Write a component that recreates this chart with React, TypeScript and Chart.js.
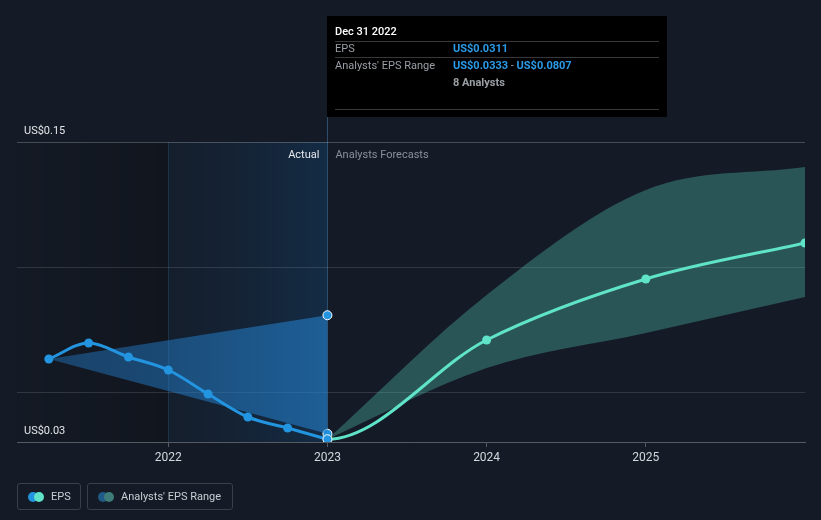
import React, { useEffect, useRef } from 'react';
import { Chart, registerables } from 'chart.js';

Chart.register(...registerables);

// ---- data ----
const pastQuarters = [2021.25, 2021.5, 2021.75, 2022, 2022.25, 2022.5, 2022.75, 2023];
const pastEps = [0.0632, 0.0696, 0.064, 0.0588, 0.0492, 0.04, 0.0356, 0.0311];

const pastRangeX = [2021.25, 2023];
const pastRangeHigh = [0.0632, 0.0807];
const pastRangeLow = [0.0632, 0.0333];

const forecastYears = [2023, 2024, 2025, 2026];
const forecastEps = [0.0311, 0.0708, 0.0952, 0.1096];
const forecastHigh = [0.0311, 0.0888, 0.1308, 0.14];
const forecastLow = [0.0311, 0.0596, 0.0736, 0.088];

const xTickYears = [2022, 2023, 2024, 2025];
const yTickValues = [0.03, 0.05, 0.1, 0.15];
const yLabelledValues = [0.03, 0.15];

const tooltipDate = 'Dec 31 2022';
const analystCount = 8;
const actualStart = 2022;
const actualEnd = 2023;

// ---- style ----
const BG = '#151b26';
const FONT = 'Roboto, "Noto Sans", "DejaVu Sans", sans-serif';
const BLUE = '#2394df';
const TEAL = '#5fe3c9';
const TIP_BLUE = '#2b9be8';

const fmt = (v: number) => 'US$' + v.toFixed(4);

const regionsPlugin = {
  id: 'regions',
  beforeDraw(chart: any) {
    const { ctx, chartArea: a, scales } = chart;
    if (!a) return;
    const x = scales.x;
    const xs = x.getPixelForValue(actualStart);
    const xe = x.getPixelForValue(actualEnd);
    ctx.save();
    // darker pre-actual region
    let g = ctx.createLinearGradient(a.left, 0, xs, 0);
    g.addColorStop(0, 'rgba(0,0,0,0.02)');
    g.addColorStop(1, 'rgba(0,0,0,0.2)');
    ctx.fillStyle = g;
    ctx.fillRect(a.left, a.top, xs - a.left, a.bottom - a.top);
    // actual region
    g = ctx.createLinearGradient(xs, 0, xe, 0);
    g.addColorStop(0, 'rgba(20,42,65,0.25)');
    g.addColorStop(1, 'rgba(20,58,95,0.55)');
    ctx.fillStyle = g;
    ctx.fillRect(xs, a.top, xe - xs, a.bottom - a.top);
    // vertical lines
    ctx.lineWidth = 1;
    ctx.strokeStyle = 'rgba(40,85,120,0.4)';
    ctx.beginPath();
    ctx.moveTo(Math.round(xs) + 0.5, a.top);
    ctx.lineTo(Math.round(xs) + 0.5, a.bottom);
    ctx.stroke();
    ctx.strokeStyle = 'rgba(60,105,145,0.65)';
    ctx.beginPath();
    ctx.moveTo(Math.round(xe) + 0.5, 16);
    ctx.lineTo(Math.round(xe) + 0.5, a.bottom);
    ctx.stroke();
    // labels
    ctx.font = `11px ${FONT}`;
    ctx.textBaseline = 'middle';
    ctx.textAlign = 'right';
    ctx.fillStyle = '#e6e8eb';
    ctx.fillText('Actual', xe - 8, a.top + 13);
    ctx.textAlign = 'left';
    ctx.fillStyle = '#8a9099';
    ctx.fillText('Analysts Forecasts', xe + 8, a.top + 13);
    ctx.restore();
  },
};

const tooltipPlugin = {
  id: 'staticTip',
  afterDraw(chart: any) {
    const { ctx, scales } = chart;
    const x0 = Math.round(scales.x.getPixelForValue(actualEnd));
    const top = 16;
    const w = 340;
    const h = 101;
    ctx.save();
    ctx.fillStyle = '#000';
    ctx.fillRect(x0, top, w, h);
    const lx = x0 + 8;
    const vx = x0 + 126;
    const line = (y: number) => {
      ctx.strokeStyle = 'rgba(255,255,255,0.22)';
      ctx.lineWidth = 1;
      ctx.beginPath();
      ctx.moveTo(lx, y + 0.5);
      ctx.lineTo(x0 + w - 8, y + 0.5);
      ctx.stroke();
    };
    ctx.textBaseline = 'middle';
    ctx.textAlign = 'left';
    ctx.font = `500 11px ${FONT}`;
    ctx.fillStyle = '#ffffff';
    ctx.fillText(tooltipDate, lx, top + 16);
    line(top + 25);
    ctx.font = `11px ${FONT}`;
    ctx.fillStyle = '#9a9fa6';
    ctx.fillText('EPS', lx, top + 33);
    ctx.font = `bold 11px ${FONT}`;
    ctx.fillStyle = TIP_BLUE;
    ctx.fillText(fmt(pastEps[pastEps.length - 1]), vx, top + 33);
    line(top + 41);
    ctx.font = `11px ${FONT}`;
    ctx.fillStyle = '#9a9fa6';
    ctx.fillText("Analysts' EPS Range", lx, top + 50);
    ctx.font = `bold 11px ${FONT}`;
    const lowTxt = fmt(pastRangeLow[pastRangeLow.length - 1]);
    const highTxt = fmt(pastRangeHigh[pastRangeHigh.length - 1]);
    ctx.fillStyle = TIP_BLUE;
    ctx.fillText(lowTxt, vx, top + 50);
    let cx = vx + ctx.measureText(lowTxt).width;
    ctx.fillStyle = '#9a9fa6';
    ctx.font = `11px ${FONT}`;
    ctx.fillText(' - ', cx, top + 50);
    cx += ctx.measureText(' - ').width;
    ctx.font = `bold 11px ${FONT}`;
    ctx.fillStyle = TIP_BLUE;
    ctx.fillText(highTxt, cx, top + 50);
    ctx.fillStyle = '#9a9fa6';
    ctx.fillText(`${analystCount} Analysts`, vx, top + 67);
    line(top + 93);
    ctx.restore();
  },
};

function LegendItem({ c1, c2, label, width }: { c1: string; c2: string; label: string; width: number }) {
  return (
    <div
      style={{
        boxSizing: 'border-box',
        width,
        height: 27,
        border: '1px solid #3a404b',
        borderRadius: 3,
        display: 'flex',
        alignItems: 'center',
        paddingLeft: 10,
        marginRight: 6,
      }}
    >
      <div style={{ position: 'relative', width: 16, height: 10, marginRight: 7 }}>
        <div style={{ position: 'absolute', left: 0, top: 0, width: 10, height: 10, borderRadius: 5, background: c1 }} />
        <div style={{ position: 'absolute', left: 6, top: 0, width: 10, height: 10, borderRadius: 5, background: c2 }} />
      </div>
      <span style={{ color: '#c9cdd3', font: `11px ${FONT}` }}>{label}</span>
    </div>
  );
}

export default function App() {
  const canvasRef = useRef<HTMLCanvasElement | null>(null);

  useEffect(() => {
    document.body.style.margin = '0';
    document.body.style.background = BG;
    const canvas = canvasRef.current;
    if (!canvas) return;

    const pastLine = pastQuarters.map((x, i) => ({ x, y: pastEps[i] }));
    const leadIdx = pastQuarters.length - 2;
    const forecastLine = [
      { x: pastQuarters[leadIdx], y: pastEps[leadIdx] },
      ...forecastYears.map((x, i) => ({ x, y: forecastEps[i] })),
    ];

    const pastRangeFill = (c: any) => {
      const a = c.chart.chartArea;
      if (!a) return 'rgba(35,125,200,0.55)';
      const g = c.chart.ctx.createLinearGradient(a.left, 0, c.chart.scales.x.getPixelForValue(actualEnd), 0);
      g.addColorStop(0, 'rgba(35,120,195,0.42)');
      g.addColorStop(1, 'rgba(35,128,205,0.6)');
      return g;
    };

    const chart = new Chart(canvas, {
      type: 'line',
      data: {
        datasets: [
          {
            label: 'EPS',
            data: pastLine,
            borderColor: BLUE,
            backgroundColor: BLUE,
            borderWidth: 3,
            cubicInterpolationMode: 'monotone',
            pointRadius: 4.5,
            pointBackgroundColor: BLUE,
            pointBorderColor: pastLine.map((_, i) => (i === pastLine.length - 1 ? '#ffffff' : BLUE)),
            pointBorderWidth: pastLine.map((_, i) => (i === pastLine.length - 1 ? 1 : 0)),
            fill: false,
            order: 0,
          } as any,
          {
            label: 'EPS forecast',
            data: forecastLine,
            borderColor: TEAL,
            backgroundColor: TEAL,
            borderWidth: 3,
            cubicInterpolationMode: 'monotone',
            pointRadius: (c: any) => (c.dataIndex >= 2 ? 4.5 : 0),
            pointBackgroundColor: TEAL,
            pointBorderWidth: 0,
            segment: {
              borderColor: (c: any) => (c.p0DataIndex === 0 ? 'rgba(0,0,0,0)' : TEAL),
            },
            fill: false,
            order: 1,
          } as any,
          {
            label: 'range high',
            data: pastRangeX.map((x, i) => ({ x, y: pastRangeHigh[i] })),
            borderWidth: 0,
            borderColor: 'rgba(0,0,0,0)',
            backgroundColor: pastRangeFill,
            pointRadius: [0, 4.5],
            pointBackgroundColor: BLUE,
            pointBorderColor: '#ffffff',
            pointBorderWidth: 1,
            fill: '+1',
            order: 2,
          } as any,
          {
            label: 'range low',
            data: pastRangeX.map((x, i) => ({ x, y: pastRangeLow[i] })),
            borderWidth: 0,
            borderColor: 'rgba(0,0,0,0)',
            backgroundColor: 'rgba(0,0,0,0)',
            pointRadius: [0, 4.5],
            pointBackgroundColor: BLUE,
            pointBorderColor: '#ffffff',
            pointBorderWidth: 1,
            fill: false,
            order: 3,
          } as any,
          {
            label: 'forecast high',
            data: forecastYears.map((x, i) => ({ x, y: forecastHigh[i] })),
            borderWidth: 0,
            borderColor: 'rgba(0,0,0,0)',
            backgroundColor: 'rgba(94,222,200,0.3)',
            cubicInterpolationMode: 'monotone',
            pointRadius: 0,
            fill: '+1',
            order: 4,
          } as any,
          {
            label: 'forecast low',
            data: forecastYears.map((x, i) => ({ x, y: forecastLow[i] })),
            borderWidth: 0,
            borderColor: 'rgba(0,0,0,0)',
            backgroundColor: 'rgba(0,0,0,0)',
            cubicInterpolationMode: 'monotone',
            pointRadius: 0,
            fill: false,
            order: 5,
          } as any,
        ],
      },
      options: {
        animation: false,
        responsive: false,
        maintainAspectRatio: false,
        events: [],
        layout: { padding: { left: 17, right: 16, top: 142, bottom: 0 } },
        plugins: {
          legend: { display: false },
          tooltip: { enabled: false },
        },
        scales: {
          x: {
            type: 'linear',
            min: 2021.05,
            max: 2026,
            afterBuildTicks: (s: any) => {
              s.ticks = xTickYears.map((v) => ({ value: v }));
            },
            afterFit: (s: any) => {
              s.height = 78;
            },
            grid: {
              drawOnChartArea: false,
              drawTicks: true,
              tickLength: 5,
              color: 'rgba(255,255,255,0.28)',
            },
            border: { display: true, color: 'rgba(255,255,255,0.28)', width: 1 },
            ticks: {
              color: '#d4d7dc',
              font: { family: FONT, size: 12 },
              padding: 4,
              maxRotation: 0,
              callback: (v: any) => String(v),
            },
          },
          y: {
            type: 'linear',
            min: 0.03,
            max: 0.15,
            afterBuildTicks: (s: any) => {
              s.ticks = yTickValues.map((v) => ({ value: v }));
            },
            afterFit: (s: any) => {
              s.width = 0;
            },
            grid: {
              drawTicks: false,
              color: (c: any) => {
                const v = c.tick && c.tick.value;
                if (v === 0.03) return 'rgba(0,0,0,0)';
                if (v === 0.15) return 'rgba(255,255,255,0.22)';
                return 'rgba(255,255,255,0.12)';
              },
            },
            border: { display: false },
            ticks: {
              mirror: true,
              padding: 7,
              labelOffset: -11,
              color: '#e3e5e8',
              font: { family: FONT, size: 11 },
              callback: (v: any) => (yLabelledValues.includes(v) ? 'US$' + Number(v).toFixed(2) : ''),
            },
          },
        },
      },
      plugins: [regionsPlugin, tooltipPlugin],
    } as any);

    return () => chart.destroy();
  }, []);

  return (
    <div style={{ position: 'absolute', left: 0, top: 0, width: 821, height: 520, background: BG, overflow: 'hidden' }}>
      <canvas ref={canvasRef} width={821} height={520} style={{ position: 'absolute', left: 0, top: 0, width: 821, height: 520 }} />
      <div style={{ position: 'absolute', left: 17, top: 483, display: 'flex' }}>
        <LegendItem c1={BLUE} c2={TEAL} label="EPS" width={64} />
        <LegendItem c1="#1f5a88" c2="#3d7c78" label="Analysts' EPS Range" width={146} />
      </div>
    </div>
  );
}
